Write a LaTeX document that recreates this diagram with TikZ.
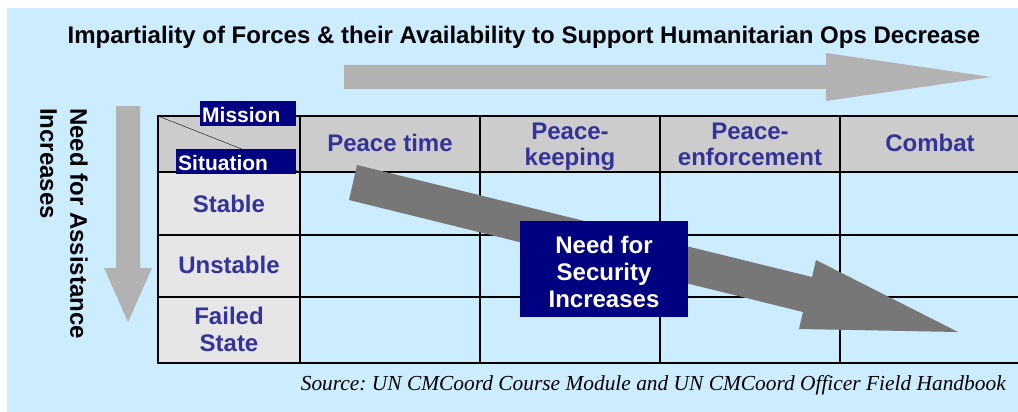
\documentclass[tikz,border=0pt]{standalone}
\usepackage{fontspec}
\setmainfont{Liberation Sans}
\newfontfamily\sourcefont{Liberation Serif}
\usetikzlibrary{positioning}

\begin{document}
\begin{tikzpicture}[x=1pt, y=-1pt,
    celltext/.style={text=txt_blue, align=center, inner sep=0pt, anchor=north,
        font=\bfseries\fontsize{24}{#1}\selectfont},
    celltext/.default=25.5,
    tagbox/.style={fill=un_navy, text=white, inner xsep=2pt, inner ysep=0pt,
        anchor=north west, minimum height=25pt, text height=18pt, text depth=0pt,
        align=left, font=\bfseries\fontsize{21}{21}\selectfont},
    gridline/.style={line width=2pt}
]

    % Define colors
    \definecolor{bg_blue}{RGB}{204, 236, 255}
    \definecolor{hdr_gray}{RGB}{204, 204, 204}
    \definecolor{row_gray}{RGB}{230, 230, 230}
    \definecolor{arrow_light}{RGB}{178, 178, 178}
    \definecolor{arrow_dark}{RGB}{119, 119, 119}
    \definecolor{un_navy}{RGB}{0, 0, 128}
    \definecolor{txt_blue}{RGB}{51, 51, 153}

    \useasboundingbox (0,0) rectangle (1018,412);
    \fill[bg_blue] (7,8) rectangle (1018,412);

    % Big light arrows
    \fill[arrow_light] (344,65) -- (826,65) -- (826,53) -- (991,77)
        -- (826,101) -- (826,89) -- (344,89) -- cycle;
    \fill[arrow_light] (116,106) -- (140,106) -- (140,268) -- (152,268)
        -- (128,322) -- (104,268) -- (116,268) -- cycle;

    % Table fills
    \fill[hdr_gray] (158,116) rectangle (1018,172);
    \fill[row_gray] (158,172) rectangle (300,363);
    \draw[thin] (158,116) -- (300,172);

    % Grid
    \foreach \x in {158, 300, 480, 660, 840}
        \draw[gridline] (\x,116) -- (\x,363);
    \foreach \y in {116, 172, 235, 297, 363}
        \draw[gridline] (157,\y) -- (1018,\y);

    % Header row
    \node[celltext] (peacetime) at (390,134) {Peace time};
    \node[celltext] (keeping) at (570,123) {Peace-\\keeping};
    \node[celltext] (enforcement) at (750,123) {Peace-\\enforcement};
    \node[celltext] (combat) at (930,134) {Combat};

    % Situation column
    \node[celltext] (stable) at (229,195) {Stable};
    \node[celltext] (unstable) at (229,256) {Unstable};
    \node[celltext=27.5] (failed) at (229,306.5) {Failed\\State};

    % Dark arrow across the table
    \fill[arrow_dark] (357,165) -- (812,277) -- (816,260) -- (958,332)
        -- (799,329) -- (803,312) -- (349,200) -- cycle;

    % Corner tags
    \node[tagbox, text width=92pt] (mission) at (200,101) {Mission};
    \node[tagbox, text width=116pt] (situation) at (176,149) {Situation};

    % Security box
    \node[fill=un_navy, text=white, align=center, inner sep=0pt,
        minimum width=168pt, minimum height=96pt,
        font=\bfseries\fontsize{24}{27}\selectfont] (security) at (604,269)
        {\rule{0pt}{23pt}Need for\\Security\\Increases};

    % Titles
    \node[anchor=base, inner sep=0pt, font=\bfseries\fontsize{24}{24}\selectfont]
        (title) at (524,44)
        {Impartiality of Forces \& their Availability to Support Humanitarian Ops Decrease};
    \node[rotate=-90, anchor=north west, align=left, inner sep=0pt,
        font=\bfseries\fontsize{24}{30}\selectfont] (assist) at (88,108)
        {Need for Assistance\\Increases};
    \node[anchor=base east, inner sep=0pt,
        font=\sourcefont\itshape\fontsize{21.4}{21.4}\selectfont] (source) at (1006,390)
        {\frenchspacing Source: UN CMCoord Course Module and UN CMCoord Officer Field Handbook};

\end{tikzpicture}
\end{document}
